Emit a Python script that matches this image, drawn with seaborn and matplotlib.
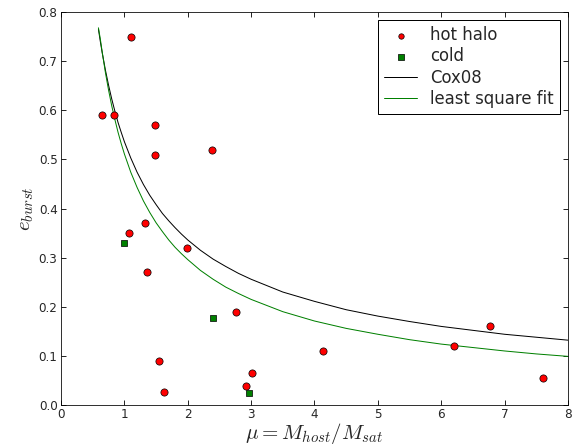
import matplotlib
matplotlib.use("Agg")
import matplotlib.pyplot as plt
import pandas as pd
import seaborn as sns

# hot halo mergers
hot_mu = [0.65, 0.83, 1.10, 1.48, 1.48, 2.38, 1.08, 1.33, 1.98, 1.36, 2.76, 1.54, 1.62, 2.92, 3.01, 4.14, 6.20, 6.77, 7.60]
hot_e = [0.59, 0.59, 0.75, 0.57, 0.51, 0.52, 0.35, 0.37, 0.32, 0.27, 0.19, 0.09, 0.026, 0.038, 0.065, 0.11, 0.12, 0.16, 0.055]

# cold mergers
cold_mu = [0.99, 2.40, 2.96]
cold_e = [0.33, 0.177, 0.024]

# curves
curve_mu = [0.59, 0.62, 0.65, 0.7, 0.75, 0.8, 0.85, 0.9, 0.95, 1.0, 1.1, 1.2, 1.3, 1.4,
            1.5, 1.6, 1.7, 1.8, 1.9, 2.0, 2.2, 2.4, 2.6, 2.8, 3.0, 3.5, 4.0, 4.5, 5.0,
            5.5, 6.0, 6.5, 7.0, 7.5, 8.0]
cox08_e = [0.765, 0.740, 0.717, 0.682, 0.651, 0.623, 0.598, 0.575, 0.555, 0.536, 0.503,
           0.474, 0.449, 0.427, 0.408, 0.390, 0.375, 0.361, 0.348, 0.336, 0.315, 0.297,
           0.282, 0.268, 0.256, 0.230, 0.211, 0.194, 0.181, 0.170, 0.160, 0.152, 0.144,
           0.138, 0.132]
fit_e = [0.768, 0.745, 0.718, 0.677, 0.641, 0.609, 0.581, 0.555, 0.532, 0.511, 0.474,
         0.443, 0.4155, 0.392, 0.371, 0.353, 0.336, 0.321, 0.308, 0.296, 0.274, 0.256,
         0.240, 0.227, 0.215, 0.190, 0.171, 0.156, 0.144, 0.133, 0.124, 0.117, 0.110,
         0.104, 0.099]

sns.set_style("ticks", {"xtick.direction": "in", "ytick.direction": "in",
                        "axes.edgecolor": "black"})
plt.rcParams["font.family"] = ["DejaVu Sans"]
plt.rcParams["mathtext.fontset"] = "cm"
plt.rcParams["xtick.top"] = True
plt.rcParams["ytick.right"] = True

fig = plt.figure(figsize=(8, 448 / 72), dpi=72)
ax = fig.add_axes([0.106, 0.096, 0.880, 0.877])

hot_df = pd.DataFrame({"mu": hot_mu, "e": hot_e})
cold_df = pd.DataFrame({"mu": cold_mu, "e": cold_e})
curve_df = pd.DataFrame({"mu": curve_mu, "cox": cox08_e, "fit": fit_e})

sns.lineplot(data=curve_df, x="mu", y="cox", color="black", lw=1, label="Cox08", ax=ax, sort=False)
sns.lineplot(data=curve_df, x="mu", y="fit", color=(0, 0.5, 0), lw=1, label="least square fit", ax=ax, sort=False)
sns.scatterplot(data=hot_df, x="mu", y="e", color="red", marker="o", s=52,
                edgecolor="black", linewidth=0.7, label="hot halo", ax=ax, zorder=3)
sns.scatterplot(data=cold_df, x="mu", y="e", color=(0, 0.5, 0), marker="s", s=45,
                edgecolor="black", linewidth=0.7, label="cold", ax=ax, zorder=3)

ax.set_xlim(0, 8)
ax.set_ylim(0, 0.8)
ax.set_xticks(range(0, 9))
ax.set_yticks([i / 10 for i in range(9)])
ax.set_yticklabels([f"{i / 10:.1f}" for i in range(9)])
ax.tick_params(labelsize=12, length=5, width=1)
ax.set_xlabel(r"$\mu=M_{host}/M_{sat}$", fontsize=21, labelpad=0)
ax.set_ylabel(r"$e_{burst}$", fontsize=21, labelpad=3)

handles, labels = ax.get_legend_handles_labels()
order = [labels.index(n) for n in ["hot halo", "cold", "Cox08", "least square fit"]]
leg = ax.legend([handles[i] for i in order], [labels[i] for i in order],
                loc="upper right", fontsize=16.5, frameon=True, fancybox=False,
                edgecolor="black", framealpha=1, labelspacing=0.2,
                borderaxespad=0.5, markerscale=0.75, handletextpad=0.8,
                borderpad=0.35)
leg.get_frame().set_linewidth(1)

fig.savefig("out.png", dpi=72)
